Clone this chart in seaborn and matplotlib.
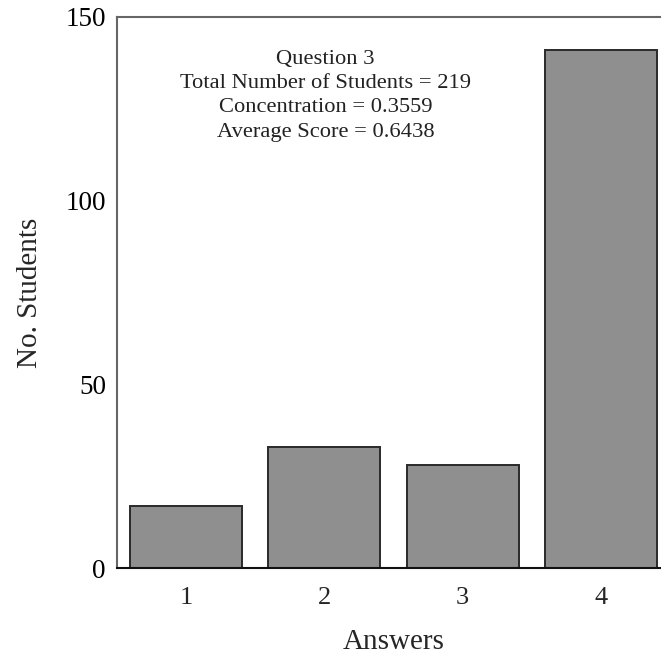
import pandas as pd
import seaborn as sns
import matplotlib.pyplot as plt

answers = ["1", "2", "3", "4"]
students = [17, 33, 28, 141]
question = "Question 3"
total = 219
concentration = 0.3559
average_score = 0.6438

df = pd.DataFrame({"answer": answers, "students": students})

sns.set_theme(style="white")
plt.rcParams["font.family"] = ["Liberation Serif", "DejaVu Serif"]

fig = plt.figure(figsize=(6.61, 6.57), dpi=100)
ax = fig.add_axes([117 / 661, 89 / 657, 553 / 661, 551 / 657])

sns.barplot(data=df, x="answer", y="students", color="#8f8f8f", saturation=1,
            width=0.81, edgecolor="#2a2a2a", linewidth=1.4, ax=ax)

ax.set_xlim(-0.5, 3.5)
ax.set_ylim(0, 150)
ax.set_yticks([0, 50, 100, 150])
ax.set_xlabel("Answers", fontsize=21, labelpad=14)
ax.set_ylabel("No. Students", fontsize=21, labelpad=16)
ax.tick_params(axis="y", direction="in", length=6, width=1, colors="#444",
               labelsize=19.5, labelcolor="black", pad=8)
ax.tick_params(axis="x", length=0, labelsize=19, pad=14)

for side in ["left", "top", "right"]:
    ax.spines[side].set_color("#666")
    ax.spines[side].set_linewidth(1.5)
ax.spines["bottom"].set_color("#111")
ax.spines["bottom"].set_linewidth(1.5)

# summary block in the upper left
info = (f"{question}\nTotal Number of Students = {total}\n"
        f"Concentration = {concentration:.4f}\nAverage Score = {average_score:.4f}")
ax.text(0.377, 0.94, info, transform=ax.transAxes, ha="center", va="top",
        fontsize=16.2, linespacing=1.37, color="#222")

fig.savefig("out.png", dpi=100)
